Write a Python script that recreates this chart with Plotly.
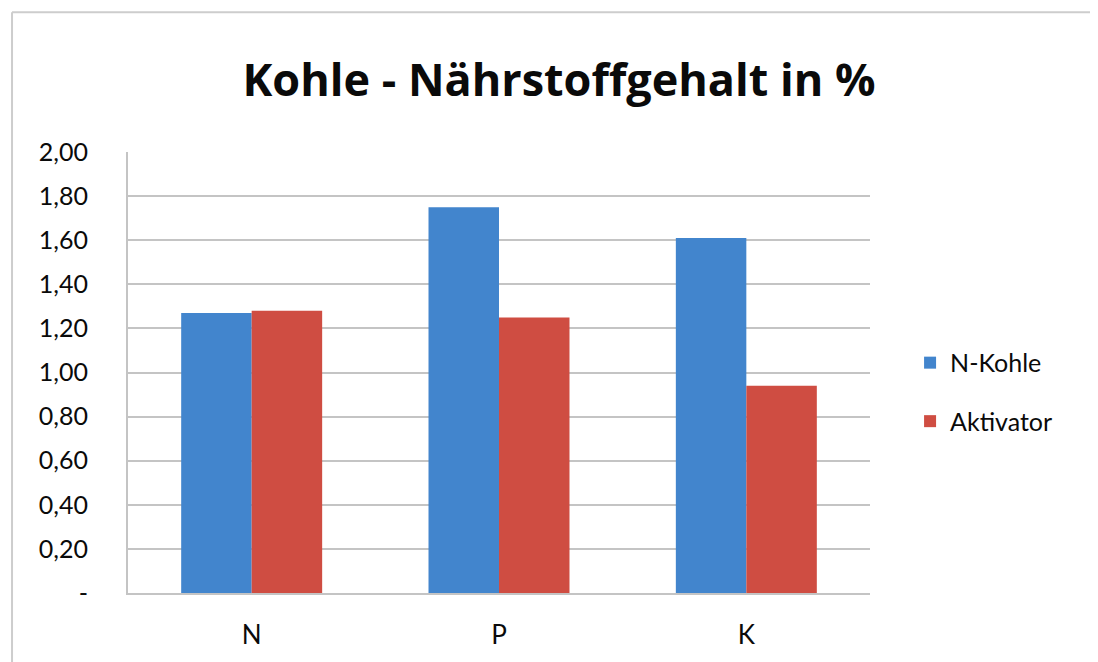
import plotly.graph_objects as go

# data
categories = ["N", "P", "K"]
n_kohle = [1.27, 1.75, 1.61]
aktivator = [1.28, 1.25, 0.94]
tick_vals = [0, 0.2, 0.4, 0.6, 0.8, 1.0, 1.2, 1.4, 1.6, 1.8, 2.0]
tick_text = ["-", "0,20", "0,40", "0,60", "0,80", "1,00", "1,20", "1,40", "1,60", "1,80", "2,00"]

COLORS = {
    'blue': '#4285cd',
    'red': '#cf4d42',
    'grid': '#c4c4c4',
    'frame': '#cdcdcd',
    'text': '#0a0a0a',
}
FONT = "Lato, 'Open Sans', sans-serif"

fig = go.Figure()
fig.add_trace(go.Bar(x=categories, y=n_kohle, name="N-Kohle", legendgroup="a",
                     marker=dict(color=COLORS['blue'], line_width=0)))
fig.add_trace(go.Bar(x=categories, y=aktivator, name="Aktivator", legendgroup="b",
                     marker=dict(color=COLORS['red'], line_width=0)))

# outer chart frame (partially cropped in the reference)
fig.add_shape(type="line", xref="paper", yref="paper", x0=-0.1563, x1=-0.1563, y0=-0.2, y1=1.317,
              line=dict(color=COLORS['frame'], width=2))
fig.add_shape(type="line", xref="paper", yref="paper", x0=-0.1563, x1=1.35, y0=1.317, y1=1.317,
              line=dict(color=COLORS['frame'], width=2))

fig.update_layout(
    width=1090, height=654,
    barmode='group', bargap=0.43, bargroupgap=0,
    plot_bgcolor='white', paper_bgcolor='white',
    font=dict(family=FONT, color=COLORS['text'], size=25),
    margin=dict(l=120, r=228, t=144, b=69),
    title=dict(text="<b>Kohle - Nährstoffgehalt in %</b>", x=0.5055, xanchor='center',
               y=0.89, yanchor='middle',
               font=dict(size=45, family="'Open Sans', sans-serif", color=COLORS['text'])),
    xaxis=dict(showgrid=False, showline=True, linecolor=COLORS['grid'], linewidth=2,
               ticks="", ticklabelstandoff=18, tickfont=dict(size=26), automargin=False),
    yaxis=dict(range=[0, 2.0], tickvals=tick_vals, ticktext=tick_text, showgrid=True,
               gridcolor=COLORS['grid'], gridwidth=2, showline=True, linecolor=COLORS['grid'],
               linewidth=2, zeroline=False, ticks="", ticklabelstandoff=33, tickfont=dict(size=25),
               automargin=False),
    legend=dict(x=1.054, y=0.456, xanchor='left', yanchor='middle', tracegroupgap=23,
                font=dict(size=25), itemsizing='constant'),
    showlegend=True,
)

fig.write_html("out.html")
